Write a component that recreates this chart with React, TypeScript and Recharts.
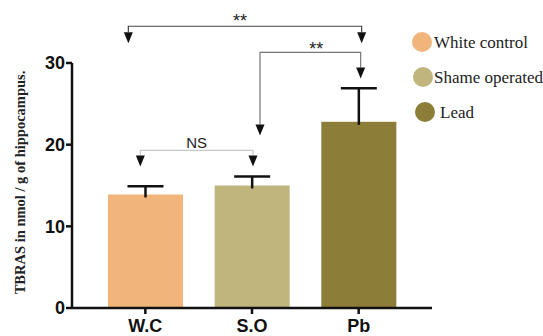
import React from "react";
import { BarChart, Bar, XAxis, YAxis, ReferenceLine } from "recharts";

// groups on the x axis and their legend names
const groups = ["W.C", "S.O", "Pb"];
const groupNames = ["White control", "Shame operated", "Lead"];
// mean TBRAS (nmol / g) and upper error
const means = [13.9, 15.0, 22.8];
const errors = [1.0, 1.1, 4.1];
const yTicks = [0, 10, 20, 30];
const colors = ["#F1B57C", "#C0B67D", "#8C7D39"];

// significance brackets (level in y units)
const brackets = [
  { from: "W.C", to: "Pb", level: 34.5, label: "**" },
  { from: "S.O", to: "Pb", level: 31.3, label: "**" },
  { from: "W.C", to: "S.O", level: 19.3, label: "NS" },
];

// drawing tweaks for each bracket (pixels)
const bracketLook = [
  { stroke: "#444", dxL: -17, dxR: 3, dropL: 17, dropR: 17, labelDx: -5, labelDy: 1, fontSize: 18 },
  { stroke: "#777", dxL: 8, dxR: 2, dropL: 83, dropR: 26, labelDx: 6, labelDy: 3, fontSize: 18 },
  { stroke: "#c8c8c8", dxL: -5, dxR: 1, dropL: 16, dropR: 16, labelDx: 0, labelDy: -2, fontSize: 15 },
];

const data = groups.map((g, i) => ({ group: g, mean: means[i], err: errors[i] }));

function BarWithError(props: any) {
  const { x, y, width, height, payload } = props;
  const fill = colors[groups.indexOf(payload.group)];
  const perUnit = height / payload.mean;
  const cx = x + width / 2;
  const top = y - payload.err * perUnit;
  return (
    <g>
      <rect x={x} y={y} width={width} height={height} fill={fill} />
      <line x1={cx} y1={y + 3} x2={cx} y2={top} stroke="#111" strokeWidth={2.5} />
      <line x1={cx - 18} y1={top} x2={cx + 18} y2={top} stroke="#111" strokeWidth={2.5} />
    </g>
  );
}

function Bracket(props: any) {
  const { x1, y1, x2, b, s } = props;
  const l = x1 + s.dxL;
  const r = x2 + s.dxR;
  const y = y1;
  const tri = (cx: number, tip: number) =>
    `M${cx - 4.5},${tip - 11} L${cx + 4.5},${tip - 11} L${cx},${tip} Z`;
  return (
    <g>
      <path
        d={`M${l},${y + s.dropL - 11} L${l},${y} L${r},${y} L${r},${y + s.dropR - 11}`}
        fill="none"
        stroke={s.stroke}
        strokeWidth={1.2}
      />
      <path d={tri(l, y + s.dropL)} fill="#111" />
      <path d={tri(r, y + s.dropR)} fill="#111" />
      <text
        x={(l + r) / 2 + s.labelDx}
        y={y + s.labelDy}
        textAnchor="middle"
        fontFamily="Arial, Liberation Sans"
        fontSize={s.fontSize}
        fill="#222"
      >
        {b.label}
      </text>
    </g>
  );
}

function YTitle(props: any) {
  const vb = props.viewBox || { y: 63, height: 245 };
  const cy = vb.y + vb.height / 2 - 3;
  return (
    <text
      x={20}
      y={cy}
      transform={`rotate(-90 20 ${cy})`}
      textAnchor="middle"
      dominantBaseline="central"
      fontFamily="'Liberation Serif', 'Times New Roman', serif"
      fontWeight="bold"
      fontSize={14.5}
      fill="#222"
    >
      TBRAS in nmol / g of hippocampus.
    </text>
  );
}

const legendRows = [
  { top: 32, left: 412, textLeft: 434 },
  { top: 67, left: 413, textLeft: 434 },
  { top: 102, left: 415, textLeft: 440 },
];

export default function App() {
  return (
    <div style={{ position: "absolute", left: 0, top: 0, width: 543, height: 336, background: "#fff" }}>
      <BarChart
        width={543}
        height={336}
        data={data}
        margin={{ top: 63, right: 111, bottom: 0, left: 0 }}
        barCategoryGap="15%"
      >
        <XAxis
          dataKey="group"
          height={28}
          padding={{ left: 20, right: 20 }}
          axisLine={{ stroke: "#111", strokeWidth: 2.5 }}
          tickLine={{ stroke: "#111", strokeWidth: 2.5 }}
          tickSize={6}
          tickMargin={5}
          tick={{ fill: "#111", fontSize: 18, fontWeight: "bold", fontFamily: "Arial, Liberation Sans" }}
        />
        <YAxis
          width={72}
          domain={[0, 30]}
          ticks={yTicks}
          allowDataOverflow
          axisLine={{ stroke: "#111", strokeWidth: 2.5 }}
          tickLine={{ stroke: "#111", strokeWidth: 2.5 }}
          tickSize={6}
          tickMargin={1}
          tick={{ fill: "#111", fontSize: 18, fontWeight: "bold", fontFamily: "Arial, Liberation Sans" }}
          label={<YTitle />}
        />
        <Bar dataKey="mean" shape={<BarWithError />} isAnimationActive={false} />
        {brackets.map((b, i) => (
          <ReferenceLine
            key={i}
            segment={[
              { x: b.from, y: b.level },
              { x: b.to, y: b.level },
            ]}
            ifOverflow="visible"
            shape={(p: any) => <Bracket {...p} b={b} s={bracketLook[i]} />}
          />
        ))}
      </BarChart>
      {groupNames.map((name, i) => (
        <div key={name}>
          <div
            style={{
              position: "absolute",
              left: legendRows[i].left,
              top: legendRows[i].top,
              width: 20,
              height: 20,
              borderRadius: "50%",
              background: colors[i],
            }}
          />
          <div
            style={{
              position: "absolute",
              left: legendRows[i].textLeft,
              top: legendRows[i].top,
              fontFamily: "'Liberation Serif', 'Times New Roman', serif",
              fontSize: 17,
              lineHeight: "22px",
              color: "#222",
              whiteSpace: "nowrap",
            }}
          >
            {name}
          </div>
        </div>
      ))}
    </div>
  );
}
